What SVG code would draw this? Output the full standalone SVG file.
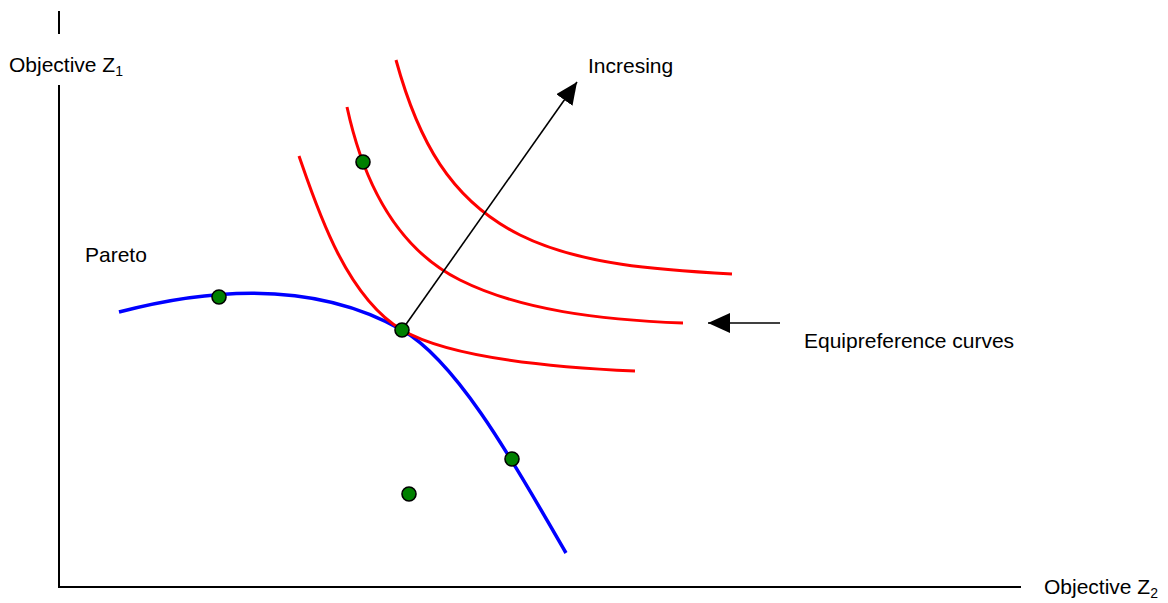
<svg xmlns="http://www.w3.org/2000/svg" width="1168" height="603" viewBox="0 0 1168 603">
<style>
text{font-family:"Liberation Sans",Arial,sans-serif;font-size:21px;fill:#000}
.sub{font-size:14px}
.axis{stroke:#000;stroke-width:2;fill:none}
.red{stroke:#ff0000;stroke-width:3;fill:none}
.blue{stroke:#0000ff;stroke-width:3.5;fill:none}
.arrow{stroke:#000;stroke-width:1.6;fill:none}
.dot{fill:#008000;stroke:#000;stroke-width:1.6}
</style>
<defs>
<marker id="ah" markerUnits="userSpaceOnUse" markerWidth="24" markerHeight="20" refX="22" refY="10" orient="auto">
<path d="M0,0 L22,10 L0,20 z" fill="#000"/>
</marker>
</defs>
<g id="axes">
<line class="axis" x1="59" y1="11" x2="59" y2="34"/>
<path class="axis" d="M59,85 L59,587 L1021,587"/>
</g>
<g id="labels">
<text x="9" y="72">Objective Z<tspan class="sub" dy="4">1</tspan></text>
<text x="1044" y="594">Objective Z<tspan class="sub" dy="4">2</tspan></text>
<text x="588" y="73">Incresing</text>
<text x="85" y="262">Pareto</text>
<text x="804" y="348">Equipreference curves</text>
</g>
<g id="pareto">
<path class="blue" d="M119,312 C180,296 300,272 402,330 C462,364 526,485 566,553"/>
</g>
<g id="equipreference">
<path class="red" d="M299,156 C316,205 345,296 402,330 C440,352 520,366 635,371"/>
<path class="red" d="M347,107 C365,190 400,250 460,280 C520,310 600,320 683,323"/>
<path class="red" d="M396,60 C418,140 450,200 520,235 C580,265 660,270 732,274"/>
</g>
<g id="connectors">
<line class="arrow" x1="402" y1="330" x2="577" y2="82" marker-end="url(#ah)"/>
<line class="arrow" x1="780" y1="323" x2="708" y2="323" marker-end="url(#ah)"/>
</g>
<g id="points">
<circle class="dot" cx="219" cy="297" r="7"/>
<circle class="dot" cx="363" cy="162" r="7"/>
<circle class="dot" cx="402" cy="330" r="7"/>
<circle class="dot" cx="512" cy="459" r="7"/>
<circle class="dot" cx="409" cy="494" r="7"/>
</g>
</svg>
